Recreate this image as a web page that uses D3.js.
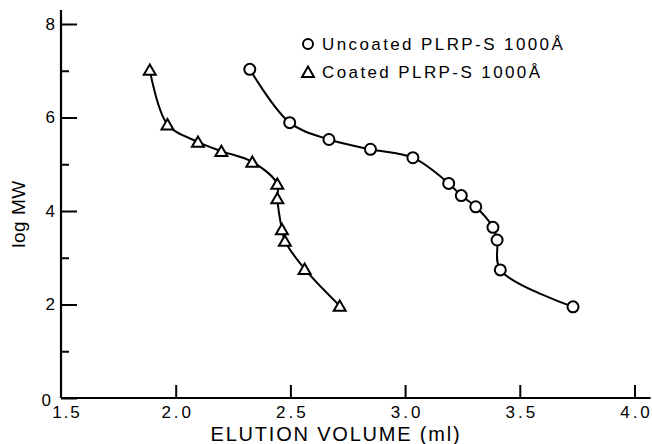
<!DOCTYPE html>
<html>
<head>
<meta charset="utf-8">
<script src="https://cdn.jsdelivr.net/npm/d3@7"></script>
<style>
  body { margin: 0; background: #fff; }
  text { font-family: "Liberation Sans", Arial, sans-serif; fill: #000; }
</style>
</head>
<body>
<svg id="chart" width="652" height="444"></svg>
<script>
// elution volume (ml) vs log MW
const uncoatedVol = [2.323, 2.497, 2.668, 2.849, 3.034, 3.190, 3.245, 3.308, 3.383, 3.401, 3.415, 3.732];
const uncoatedLogMW = [7.03, 5.89, 5.53, 5.32, 5.14, 4.59, 4.33, 4.09, 3.65, 3.38, 2.74, 1.95];
const coatedVol = [1.887, 1.964, 2.097, 2.199, 2.334, 2.443, 2.443, 2.463, 2.476, 2.562, 2.715];
const coatedLogMW = [7.02, 5.85, 5.48, 5.28, 5.05, 4.58, 4.27, 3.61, 3.36, 2.76, 1.97];

const xTicks = [1.5, 2.0, 2.5, 3.0, 3.5, 4.0];
const yTicks = [0, 2, 4, 6, 8];
const yMinorTicks = [1, 3, 5, 7];
const legendLabels = ["Uncoated PLRP-S 1000\u00c5", "Coated PLRP-S 1000\u00c5"];

const svg = d3.select("#chart");

const x = d3.scaleLinear().domain([1.5, 4.0]).range([61, 634.5]);
const y = d3.scaleLinear().domain([0, 8]).range([398, 24]);

const toPoints = (xs, ys) => xs.map((v, i) => ({ x: v, y: ys[i] }));
const uncoated = toPoints(uncoatedVol, uncoatedLogMW);
const coated = toPoints(coatedVol, coatedLogMW);

// axis lines run a bit past the last tick
svg.append("line")
    .attr("x1", x(1.5)).attr("x2", x(4.07))
    .attr("y1", y(0)).attr("y2", y(0))
    .attr("stroke", "#000").attr("stroke-width", 2.2);
svg.append("line")
    .attr("x1", x(1.5)).attr("x2", x(1.5))
    .attr("y1", y(0)).attr("y2", y(8.3))
    .attr("stroke", "#000").attr("stroke-width", 2.2);

// y axis, ticks pointing in
const yAxis = svg.append("g")
    .attr("transform", `translate(${x(1.5)},0)`)
    .call(d3.axisLeft(y).tickValues(yTicks).tickSize(-16).tickSizeOuter(0).tickPadding(7).tickFormat(d3.format("d")));
svg.append("g")
    .attr("transform", `translate(${x(1.5)},0)`)
    .call(d3.axisLeft(y).tickValues(yMinorTicks).tickSize(-8).tickSizeOuter(0).tickFormat(""));

// x axis, ticks pointing up
const xAxis = svg.append("g")
    .attr("transform", `translate(0,${y(0)})`)
    .call(d3.axisBottom(x).tickValues(xTicks.slice(1)).tickSize(-13).tickSizeOuter(0).tickPadding(8).tickFormat(d3.format(".1f")));

svg.selectAll(".domain").remove();
svg.selectAll(".tick line").attr("stroke", "#000").attr("stroke-width", 2);
svg.selectAll(".tick text")
    .style("font-family", "'Liberation Sans', Arial, sans-serif")
    .style("font-size", "17px")
    .attr("fill", "#000");
yAxis.selectAll(".tick text").attr("x", -6);
yAxis.selectAll(".tick text").filter((d) => d === 0).attr("x", -10).attr("dy", "0.45em");
xAxis.selectAll(".tick text")
    .style("letter-spacing", "3px")
    .attr("dx", 1.5);

// the 1.5 label sits right of the corner
svg.append("text")
    .attr("x", x(1.5) + 6)
    .attr("y", y(0) + 20)
    .attr("text-anchor", "middle")
    .style("font-size", "17px")
    .style("letter-spacing", "2px")
    .text(d3.format(".1f")(xTicks[0]));

// axis titles
svg.append("text")
    .attr("x", 336)
    .attr("y", 441)
    .attr("text-anchor", "middle")
    .style("font-size", "20px")
    .style("letter-spacing", "1.8px")
    .text("ELUTION VOLUME (ml)");

svg.append("text")
    .attr("transform", "translate(25,214) rotate(-90)")
    .attr("text-anchor", "middle")
    .style("font-size", "19px")
    .style("letter-spacing", "0.5px")
    .text("log MW");

// curves
const line = d3.line()
    .x((d) => x(d.x))
    .y((d) => y(d.y))
    .curve(d3.curveCatmullRom.alpha(0.5));

[uncoated, coated].forEach((series) => {
  svg.append("path")
      .datum(series)
      .attr("d", line)
      .attr("fill", "none")
      .attr("stroke", "#000")
      .attr("stroke-width", 2);
});

// markers
svg.selectAll("circle.uncoated")
    .data(uncoated)
    .enter()
    .append("circle")
      .attr("class", "uncoated")
      .attr("cx", (d) => x(d.x))
      .attr("cy", (d) => y(d.y))
      .attr("r", 5.5)
      .attr("fill", "#fff")
      .attr("stroke", "#000")
      .attr("stroke-width", 2);

const tri = d3.symbol().type(d3.symbolTriangle).size(62);
svg.selectAll("path.coated")
    .data(coated)
    .enter()
    .append("path")
      .attr("class", "coated")
      .attr("d", tri)
      .attr("transform", (d) => `translate(${x(d.x)},${y(d.y) + 1.5})`)
      .attr("fill", "#fff")
      .attr("stroke", "#000")
      .attr("stroke-width", 2);

// legend
const legend = svg.append("g").attr("transform", "translate(308,44)");
legend.append("circle")
    .attr("r", 5)
    .attr("fill", "#fff")
    .attr("stroke", "#000")
    .attr("stroke-width", 2);
legend.append("path")
    .attr("d", tri)
    .attr("transform", "translate(0,29.5)")
    .attr("fill", "#fff")
    .attr("stroke", "#000")
    .attr("stroke-width", 2);
legend.selectAll("text.label")
    .data(legendLabels)
    .enter()
    .append("text")
      .attr("class", "label")
      .attr("x", 14)
      .attr("y", (d, i) => 6 + i * 28)
      .style("font-size", "17px")
      .style("letter-spacing", "2.4px")
      .text((d) => d);
</script>
</body>
</html>
